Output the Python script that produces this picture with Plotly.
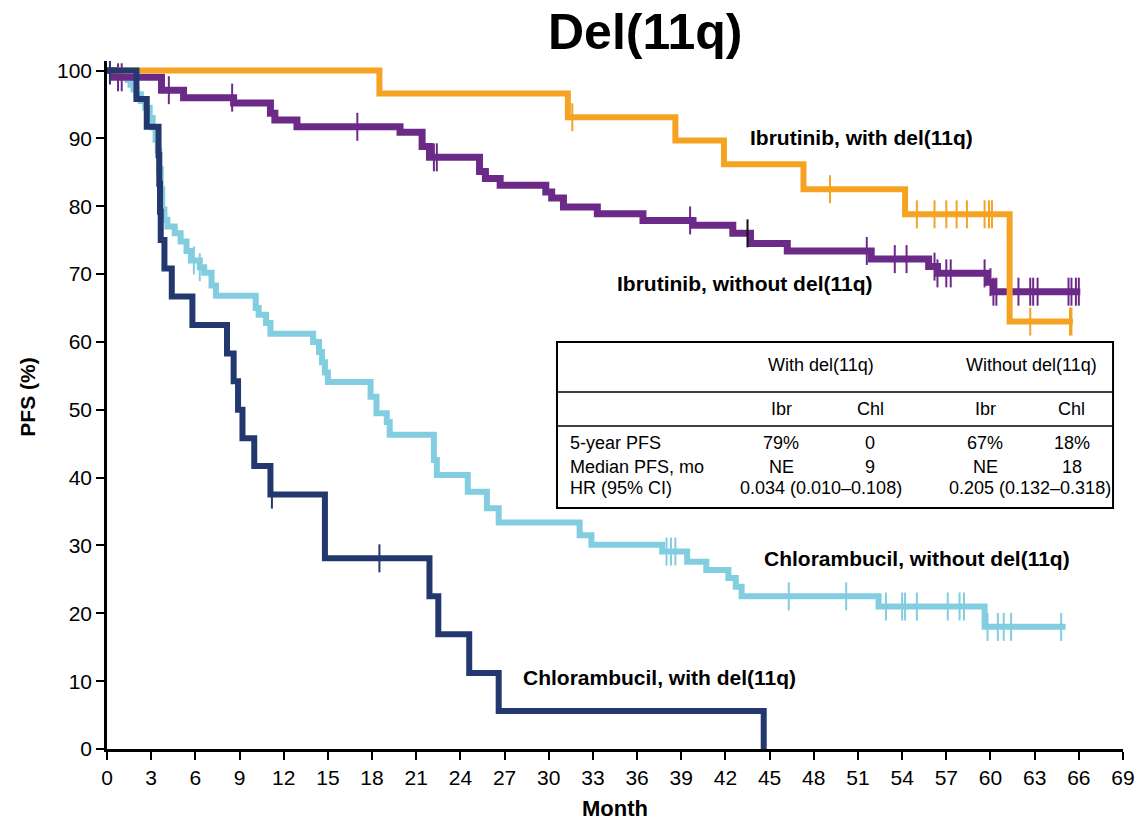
import numpy as np
import plotly.graph_objects as go

# ---- Kaplan-Meier step data (months, PFS %) ----
ibr_del_t = [0, 18.5, 31.3, 38.6, 41.9, 47.3, 54.2, 61.3, 65.6]
ibr_del_s = [100, 96.6, 93.1, 89.7, 86.2, 82.5, 78.8, 63.0, 63.0]
ibr_del_cens = [31.6, 49.1, 55.0, 56.2, 57.0, 57.7, 58.4, 59.6, 59.9, 60.1,
                62.7, 65.4, 65.5]

ibr_nodel_t = [0, 0.5, 3.7, 5.2, 8.6, 11.1, 11.4, 12.9, 19.9, 21.4, 21.9, 25.3,
               25.7, 26.7, 29.8, 30.2, 31.0, 33.3, 36.4, 39.8, 42.5, 43.7, 46.2,
               51.9, 55.8, 56.4, 59.8, 60.2, 66.1]
ibr_nodel_s = [100, 99.0, 97.1, 96.0, 95.2, 93.7, 92.7, 91.7, 90.9, 88.8, 87.2,
               85.1, 84.1, 83.1, 82.1, 81.2, 79.9, 78.9, 77.9, 77.2, 76.0, 74.5,
               73.4, 72.2, 71.1, 70.1, 68.8, 67.4, 67.4]
ibr_nodel_cens = [0.75, 1.0, 4.2, 8.5, 17.0, 22.2, 22.4, 39.6, 43.5, 51.6, 53.5,
                  54.3, 56.2, 56.4, 57.0, 57.3, 59.6, 60.0, 60.2, 60.4, 61.9,
                  62.7, 62.9, 63.2, 65.3, 65.5, 65.8, 66.0]

chl_nodel_t = [0, 1.1, 1.4, 1.6, 1.8, 2.0, 2.3, 2.6, 2.9, 3.1, 3.3, 3.45, 3.55,
               3.65, 3.75, 3.9, 4.1, 4.6, 5.0, 5.4, 5.7, 6.3, 6.6, 7.1, 7.4,
               10.1, 10.3, 10.8, 11.1, 14.0, 14.4, 14.6, 14.8, 15.0, 17.9, 18.3,
               19.0, 19.2, 22.2, 22.4, 24.5, 25.8, 26.6, 32.1, 32.9, 37.7, 39.4,
               40.7, 42.2, 42.7, 43.1, 52.4, 59.6, 65.1]
chl_nodel_s = [100, 99.3, 98.6, 97.9, 97.2, 96.5, 95.5, 94.5, 93.0, 91.6, 89.8,
               88.2, 85.5, 82.5, 79.5, 78.0, 77.0, 76.0, 74.8, 73.4, 72.0, 71.0,
               70.2, 68.3, 66.8, 65.0, 64.0, 62.8, 61.2, 60.0, 58.5, 57.0, 55.5,
               54.1, 51.9, 49.5, 48.2, 46.3, 42.6, 40.4, 37.9, 35.5, 33.4, 31.5,
               30.1, 29.1, 27.6, 26.4, 25.2, 23.9, 22.5, 21.0, 18.0, 18.0]
chl_nodel_cens = [5.9, 6.3, 38.0, 38.3, 38.6, 46.3, 50.2, 52.9, 54.0, 54.2, 55.0,
                  57.1, 57.9, 58.2, 59.8, 60.5, 60.9, 61.4, 64.8]

chl_del_t = [0, 2.0, 2.7, 3.5, 3.55, 3.6, 3.65, 3.9, 4.4, 5.8, 8.15, 8.6, 8.9,
             9.2, 10.0, 11.1, 14.8, 21.9, 22.5, 24.6, 26.6, 44.6]
chl_del_s = [100, 95.8, 91.7, 87.5, 83.3, 79.2, 75.0, 70.8, 66.7, 62.5, 58.3,
             54.2, 50.0, 45.8, 41.7, 37.5, 28.1, 22.5, 16.9, 11.2, 5.6, 0]
chl_del_cens = [0.2, 11.2, 18.5]

x_ticks = list(range(0, 70, 3))
y_ticks = list(range(0, 101, 10))

C_ORANGE = "#F6A323"
C_PURPLE = "#6C2A88"
C_NAVY = "#22386F"
C_LIGHT = "#82CDDF"

FONT = "Liberation Sans, Arial, sans-serif"


def step_value(times, surv, t):
    idx = np.searchsorted(np.asarray(times), t, side="right") - 1
    return float(np.asarray(surv)[idx])


fig = go.Figure()


def add_curve(times, surv, cens, color, width, cens_colors=None):
    fig.add_trace(go.Scatter(
        x=times, y=surv, mode="lines", line=dict(color=color, width=width, shape="hv"),
        hoverinfo="skip", showlegend=False))
    cy = [step_value(times, surv, t) for t in cens]
    fig.add_trace(go.Scatter(
        x=cens, y=cy, mode="markers",
        marker=dict(symbol="line-ns", size=20,
                    line=dict(color=cens_colors if cens_colors else color, width=2)),
        hoverinfo="skip", showlegend=False))


add_curve(chl_nodel_t, chl_nodel_s, chl_nodel_cens, C_LIGHT, 6)
purple_tick_colors = [("#111111" if t == 43.5 else C_PURPLE) for t in ibr_nodel_cens]
add_curve(ibr_nodel_t, ibr_nodel_s, ibr_nodel_cens, C_PURPLE, 7, purple_tick_colors)
add_curve(ibr_del_t, ibr_del_s, ibr_del_cens, C_ORANGE, 6)
add_curve(chl_del_t, chl_del_s, chl_del_cens, C_NAVY, 6)

annotations = []

# Title and axis titles
annotations.append(dict(text="<b>Del(11q)</b>", x=0.53, y=1.042, xref="paper", yref="paper",
                        showarrow=False, font=dict(family=FONT, size=50, color="black"),
                        xanchor="center", yanchor="middle"))
annotations.append(dict(text="<b>PFS (%)</b>", x=-0.0778, y=0.512, xref="paper", yref="paper",
                        showarrow=False, textangle=-90,
                        font=dict(family=FONT, size=21, color="black"),
                        xanchor="center", yanchor="middle"))
annotations.append(dict(text="<b>Month</b>", x=0.5, y=-0.0858, xref="paper", yref="paper",
                        showarrow=False, font=dict(family=FONT, size=22, color="black"),
                        xanchor="center", yanchor="middle"))

# Curve labels
curve_labels = [
    ("Ibrutinib, with del(11q)", 0.6309, 0.8895),
    ("Ibrutinib, without del(11q)", 0.500, 0.6773),
    ("Chlorambucil, without del(11q)", 0.6447, 0.2762),
    ("Chlorambucil, with del(11q)", 0.4075, 0.1032),
]
for txt, lx, ly in curve_labels:
    annotations.append(dict(text=f"<b>{txt}</b>", x=lx, y=ly, xref="paper", yref="paper",
                            showarrow=False, font=dict(family=FONT, size=21, color="black"),
                            xanchor="left", yanchor="middle"))

# Summary table
group_headers = ["With del(11q)", "Without del(11q)"]
arm_headers = ["Ibr", "Chl", "Ibr", "Chl"]
row_labels = ["5-year PFS", "Median PFS, mo", "HR (95% CI)"]
pfs_5yr = ["79%", "0", "67%", "18%"]
median_pfs = ["NE", "9", "NE", "18"]
hr_text = ["0.034 (0.010\u20130.108)", "0.205 (0.132\u20130.318)"]

col_x = [0.6634, 0.7510, 0.8642, 0.9498]
grp_x = [0.7028, 0.9104]
hr_x = [0.7028, 0.9080]
row_y = [0.4448, 0.4099, 0.3794]
TFONT = dict(family=FONT, size=18, color="black")


def tann(text, x, y, anchor="center"):
    annotations.append(dict(text=text, x=x, y=y, xref="paper", yref="paper", showarrow=False,
                            font=TFONT, xanchor=anchor, yanchor="middle"))


for g, gx in zip(group_headers, grp_x):
    tann(g, gx, 0.5581)
for a, ax in zip(arm_headers, col_x):
    tann(a, ax, 0.4942)
for lbl, ry in zip(row_labels, row_y):
    tann(lbl, 0.4537, ry, "left")
for v, cx in zip(pfs_5yr, col_x):
    tann(v, cx, row_y[0])
for v, cx in zip(median_pfs, col_x):
    tann(v, cx, row_y[1])
for v, hx in zip(hr_text, hr_x):
    tann(v, hx, row_y[2])

shapes = [
    dict(type="rect", xref="paper", yref="paper", x0=0.4429, x1=0.9902, y0=0.3503, y1=0.5916,
         line=dict(color="black", width=2), fillcolor="white", layer="below"),
    dict(type="line", xref="paper", yref="paper", x0=0.4429, x1=0.9902, y0=0.5189, y1=0.5189,
         line=dict(color="black", width=1.5)),
    dict(type="line", xref="paper", yref="paper", x0=0.4429, x1=0.9902, y0=0.4695, y1=0.4695,
         line=dict(color="black", width=1.5)),
]

fig.update_layout(
    width=1138, height=822, autosize=False,
    margin=dict(l=107, r=15, t=61, b=73, autoexpand=False),
    paper_bgcolor="white", plot_bgcolor="white", showlegend=False,
    annotations=annotations, shapes=shapes,
    xaxis=dict(range=[0, 69], tickvals=x_ticks, ticks="outside", ticklen=8, tickwidth=2,
               tickcolor="black", showline=True, linecolor="black", linewidth=2.5,
               showgrid=False, zeroline=False, automargin=False,
               tickfont=dict(family=FONT, size=21, color="black")),
    yaxis=dict(range=[0, 101.4], tickvals=y_ticks, ticks="outside", ticklen=8, tickwidth=2,
               tickcolor="black", showline=True, linecolor="black", linewidth=2.5,
               showgrid=False, zeroline=False, automargin=False,
               tickfont=dict(family=FONT, size=21, color="black")),
)

fig.write_html("out.html", config={"responsive": False})
